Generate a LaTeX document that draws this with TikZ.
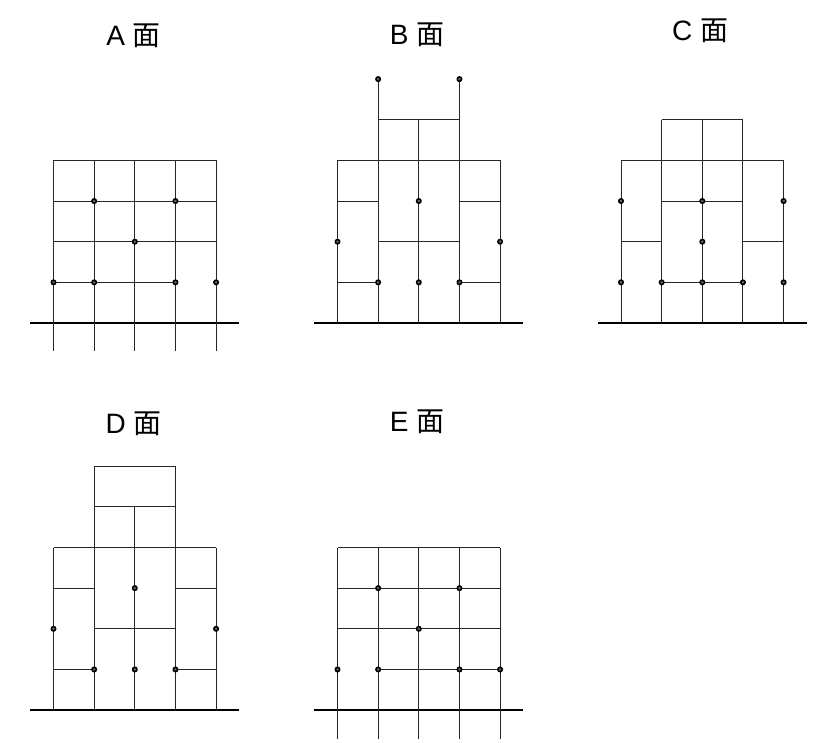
\documentclass[tikz,border=0pt]{standalone}
\usepackage{fontspec}
\setmainfont{Liberation Sans}
\newfontfamily\cjk{Noto Sans CJK JP}
\tikzset{
	member/.style={black!85,line width=0.95pt},
	ground/.style={black,line width=1.7pt},
	joint/.style={black,fill=black!60,line width=1.6pt},
	facename/.style={inner sep=0pt,font=\fontsize{28}{28}\selectfont}
}
\begin{document}
\begin{tikzpicture}[line join=round,x=40.65pt,y=40.65pt]
	\useasboundingbox (0pt,0pt) rectangle (826pt,742pt);
	% titles
	\node[facename] (titleA) at (133.5pt,706pt) {A {\cjk 面}};
	\node[facename] (titleB) at (417pt,707pt) {B {\cjk 面}};
	\node[facename] (titleC) at (700pt,711pt) {C {\cjk 面}};
	\node[facename] (titleD) at (133.5pt,318pt) {D {\cjk 面}};
	\node[facename] (titleE) at (417pt,320.5pt) {E {\cjk 面}};
	% A
	\begin{scope}[shift={(53.5pt,419pt)}]
		\draw[ground] (-0.57,0)--(4.57,0);
		\foreach \x in {0,...,4}
		\draw[member] (\x,-0.7)--(\x,4);
		\foreach \xa/\xb/\y in {0/4/4,0/4/3,0/4/2,0/3/1}
		\draw[member] (\xa,\y)--(\xb,\y);
		\foreach \x/\y in {1/3,3/3,2/2,0/1,1/1,3/1,4/1}
		\draw[joint] (\x,\y) circle (2.2pt);
	\end{scope}
	% B
	\begin{scope}[shift={(337.5pt,419pt)}]
		\draw[ground] (-0.57,0)--(4.57,0);
		\foreach \x/\y in {0/4,1/6,2/5,3/6,4/4}
		\draw[member] (\x,0)--(\x,\y);
		\foreach \xa/\xb/\y in {1/3/5,0/4/4,0/1/3,3/4/3,1/3/2,0/1/1,3/4/1}
		\draw[member] (\xa,\y)--(\xb,\y);
		\foreach \x/\y in {1/6,3/6,2/3,0/2,4/2,1/1,2/1,3/1}
		\draw[joint] (\x,\y) circle (2.2pt);
	\end{scope}
	% C
	\begin{scope}[shift={(621pt,419pt)}]
		\draw[ground] (-0.57,0)--(4.57,0);
		\foreach \x/\y in {0/4,1/5,2/5,3/5,4/4}
		\draw[member] (\x,0)--(\x,\y);
		\foreach \xa/\xb/\y in {1/3/5,0/4/4,1/3/3,0/1/2,3/4/2,1/3/1}
		\draw[member] (\xa,\y)--(\xb,\y);
		\foreach \x/\y in {0/3,2/3,4/3,2/2,0/1,1/1,2/1,3/1,4/1}
		\draw[joint] (\x,\y) circle (2.2pt);
	\end{scope}
	% D
	\begin{scope}[shift={(53.5pt,31.9pt)}]
		\draw[ground] (-0.57,0)--(4.57,0);
		\foreach \x/\y in {0/4,1/6,2/5,3/6,4/4}
		\draw[member] (\x,0)--(\x,\y);
		\foreach \xa/\xb/\y in {1/3/6,1/3/5,0/4/4,0/1/3,3/4/3,1/3/2,0/1/1,3/4/1}
		\draw[member] (\xa,\y)--(\xb,\y);
		\foreach \x/\y in {2/3,0/2,4/2,1/1,2/1,3/1}
		\draw[joint] (\x,\y) circle (2.2pt);
	\end{scope}
	% E
	\begin{scope}[shift={(337.5pt,31.9pt)}]
		\draw[ground] (-0.57,0)--(4.57,0);
		\foreach \x in {0,...,4}
		\draw[member] (\x,-0.7)--(\x,4);
		\foreach \xa/\xb/\y in {0/4/4,0/4/3,0/4/2,1/4/1}
		\draw[member] (\xa,\y)--(\xb,\y);
		\foreach \x/\y in {1/3,3/3,2/2,0/1,1/1,3/1,4/1}
		\draw[joint] (\x,\y) circle (2.2pt);
	\end{scope}
\end{tikzpicture}
\end{document}
